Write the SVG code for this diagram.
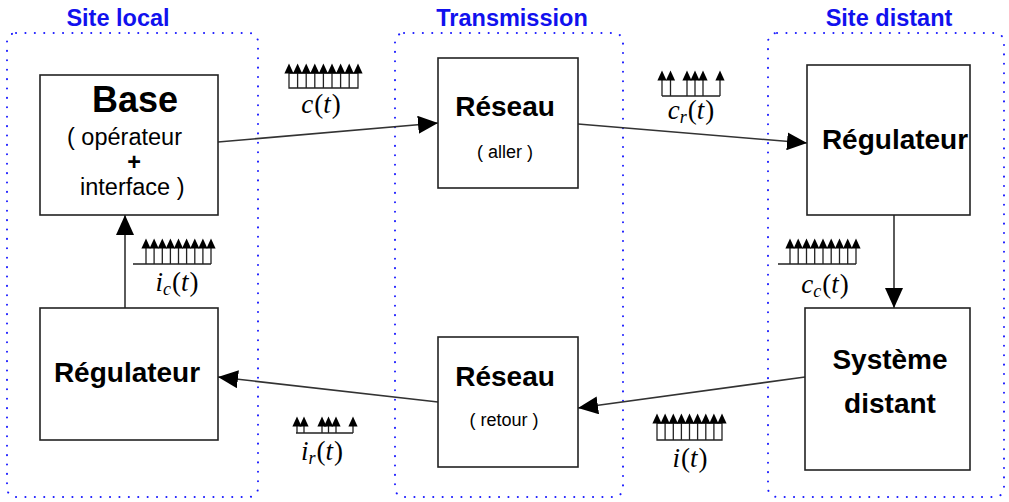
<svg xmlns="http://www.w3.org/2000/svg" width="1009" height="502" viewBox="0 0 1009 502">
<defs>
<style>
.zone{fill:none;stroke:#1a1aff;stroke-width:2;stroke-dasharray:0.1 9.3;stroke-linecap:round}
.title{font-family:"Liberation Sans",Arial,sans-serif;font-weight:bold;font-size:23.5px;fill:#1111ee;text-anchor:middle}
.box{fill:#fff;stroke:#222;stroke-width:1.6}
.big{font-family:"Liberation Sans",Arial,sans-serif;font-weight:bold;font-size:28px;fill:#000;text-anchor:middle}
.norm{font-family:"Liberation Sans",Arial,sans-serif;font-size:23.5px;fill:#000}
.small{font-family:"Liberation Sans",Arial,sans-serif;font-size:18px;fill:#000;text-anchor:middle}
.conn{fill:none;stroke:#333;stroke-width:1.6}
.sig{fill:none;stroke:#222;stroke-width:1.3}
.math{font-family:"Liberation Serif","Times New Roman",serif;font-style:italic;font-size:27px;fill:#000;text-anchor:middle}
.mrm{font-style:normal}
</style>
<marker id="ah" viewBox="0 0 20 18" refX="20" refY="9" markerWidth="20" markerHeight="18" markerUnits="userSpaceOnUse" orient="auto">
<path d="M0,0 L20,9 L0,18 Z" fill="#000"/>
</marker>
<path id="hd" d="M0,-0.5 L-4.6,9.5 L4.6,9.5 Z" fill="#000"/>
</defs>

<g id="zones">
<rect class="zone" x="7" y="33" width="251" height="464" rx="9"/>
<rect class="zone" x="395" y="33" width="228" height="464" rx="9"/>
<rect class="zone" x="768" y="33" width="236" height="464" rx="9"/>
<text class="title" x="118" y="26">Site local</text>
<text class="title" x="512" y="26">Transmission</text>
<text class="title" x="889" y="26">Site distant</text>
</g>

<g id="connectors">
<line class="conn" x1="218" y1="142" x2="438" y2="123" marker-end="url(#ah)"/>
<line class="conn" x1="578" y1="124" x2="807" y2="143" marker-end="url(#ah)"/>
<line class="conn" x1="894" y1="215" x2="894" y2="308" marker-end="url(#ah)"/>
<line class="conn" x1="805" y1="377" x2="578" y2="408" marker-end="url(#ah)"/>
<line class="conn" x1="438" y1="402" x2="218" y2="377" marker-end="url(#ah)"/>
<line class="conn" x1="125" y1="308" x2="125" y2="215" marker-end="url(#ah)"/>
</g>

<g id="base">
<rect class="box" x="40" y="75" width="178" height="140"/>
<text class="big" x="135" y="112" style="font-size:36px">Base</text>
<text class="norm" x="67" y="145">( opérateur</text>
<text class="norm" x="134" y="170" text-anchor="middle" font-weight="bold" font-size="17">+</text>
<text class="norm" x="80" y="195">interface )</text>
</g>

<g id="regulateur-local">
<rect class="box" x="40" y="308" width="178" height="132"/>
<text class="big" x="127" y="382">Régulateur</text>
</g>

<g id="reseau-aller">
<rect class="box" x="438" y="58" width="140" height="130"/>
<text class="big" x="505" y="116">Réseau</text>
<text class="small" x="505" y="158">( aller )</text>
</g>

<g id="reseau-retour">
<rect class="box" x="438" y="337" width="140" height="130"/>
<text class="big" x="505" y="386">Réseau</text>
<text class="small" x="504" y="426">( retour )</text>
</g>

<g id="regulateur-distant">
<rect class="box" x="807" y="65" width="163" height="150"/>
<text class="big" x="895" y="149">Régulateur</text>
</g>

<g id="systeme-distant">
<rect class="box" x="805" y="308" width="165" height="162"/>
<text class="big" x="890" y="369">Système</text>
<text class="big" x="890" y="413">distant</text>
</g>

<g id="signal-c">
<path class="sig" d="M289,73 H358 V88 H289 Z M297.6,73 V88 M306.2,73 V88 M314.8,73 V88 M323.4,73 V88 M332,73 V88 M340.6,73 V88 M349.2,73 V88"/>
<use href="#hd" x="289" y="64"/><use href="#hd" x="297.6" y="64"/><use href="#hd" x="306.2" y="64"/><use href="#hd" x="314.8" y="64"/><use href="#hd" x="323.4" y="64"/><use href="#hd" x="332" y="64"/><use href="#hd" x="340.6" y="64"/><use href="#hd" x="349.2" y="64"/><use href="#hd" x="358" y="64"/>
<text class="math" x="321" y="113">c<tspan class="mrm" dx="1">(</tspan>t<tspan class="mrm" dx="1">)</tspan></text>
</g>

<g id="signal-cr">
<path class="sig" d="M662,96 H720 M662,80 V96 M670.5,80 V96 M687,80 V96 M695,80 V96 M703,80 V96 M720,80 V96"/>
<use href="#hd" x="662" y="71"/><use href="#hd" x="670.5" y="71"/><use href="#hd" x="687" y="71"/><use href="#hd" x="695" y="71"/><use href="#hd" x="703" y="71"/><use href="#hd" x="720" y="71"/>
<text class="math" x="691" y="119">c<tspan font-size="18" dy="4">r</tspan><tspan class="mrm" dy="-4" dx="1">(</tspan>t<tspan class="mrm" dx="1">)</tspan></text>
</g>

<g id="signal-ic">
<path class="sig" d="M133,264 H211 M146,248 V264 M154.1,248 V264 M162.3,248 V264 M170.4,248 V264 M178.5,248 V264 M186.6,248 V264 M194.8,248 V264 M202.9,248 V264 M211,248 V264"/>
<use href="#hd" x="146" y="239"/><use href="#hd" x="154.1" y="239"/><use href="#hd" x="162.3" y="239"/><use href="#hd" x="170.4" y="239"/><use href="#hd" x="178.5" y="239"/><use href="#hd" x="186.6" y="239"/><use href="#hd" x="194.8" y="239"/><use href="#hd" x="202.9" y="239"/><use href="#hd" x="211" y="239"/>
<text class="math" x="177" y="291">i<tspan font-size="18" dy="4">c</tspan><tspan class="mrm" dy="-4" dx="1">(</tspan>t<tspan class="mrm" dx="1">)</tspan></text>
</g>

<g id="signal-cc">
<path class="sig" d="M778,264 H856 M790,248 V264 M798.2,248 V264 M806.5,248 V264 M814.7,248 V264 M823,248 V264 M831.2,248 V264 M839.5,248 V264 M847.7,248 V264 M856,248 V264"/>
<use href="#hd" x="790" y="239"/><use href="#hd" x="798.2" y="239"/><use href="#hd" x="806.5" y="239"/><use href="#hd" x="814.7" y="239"/><use href="#hd" x="823" y="239"/><use href="#hd" x="831.2" y="239"/><use href="#hd" x="839.5" y="239"/><use href="#hd" x="847.7" y="239"/><use href="#hd" x="856" y="239"/>
<text class="math" x="825" y="293">c<tspan font-size="18" dy="4">c</tspan><tspan class="mrm" dy="-4" dx="1">(</tspan>t<tspan class="mrm" dx="1">)</tspan></text>
</g>

<g id="signal-ir">
<path class="sig" d="M296,433 H353 M297,426 V433 M304,426 V433 M322,426 V433 M328.5,426 V433 M336,426 V433 M353,426 V433"/>
<use href="#hd" x="297" y="417"/><use href="#hd" x="304" y="417"/><use href="#hd" x="322" y="417"/><use href="#hd" x="328.5" y="417"/><use href="#hd" x="336" y="417"/><use href="#hd" x="353" y="417"/>
<text class="math" x="322" y="460">i<tspan font-size="18" dy="4">r</tspan><tspan class="mrm" dy="-4" dx="1">(</tspan>t<tspan class="mrm" dx="1">)</tspan></text>
</g>

<g id="signal-i">
<path class="sig" d="M657,423 H722 V440 H657 Z M665.1,423 V440 M673.3,423 V440 M681.4,423 V440 M689.5,423 V440 M697.6,423 V440 M705.8,423 V440 M713.9,423 V440"/>
<use href="#hd" x="657" y="414"/><use href="#hd" x="665.1" y="414"/><use href="#hd" x="673.3" y="414"/><use href="#hd" x="681.4" y="414"/><use href="#hd" x="689.5" y="414"/><use href="#hd" x="697.6" y="414"/><use href="#hd" x="705.8" y="414"/><use href="#hd" x="713.9" y="414"/><use href="#hd" x="722" y="414"/>
<text class="math" x="690" y="467">i<tspan class="mrm" dx="1">(</tspan>t<tspan class="mrm" dx="1">)</tspan></text>
</g>
</svg>
